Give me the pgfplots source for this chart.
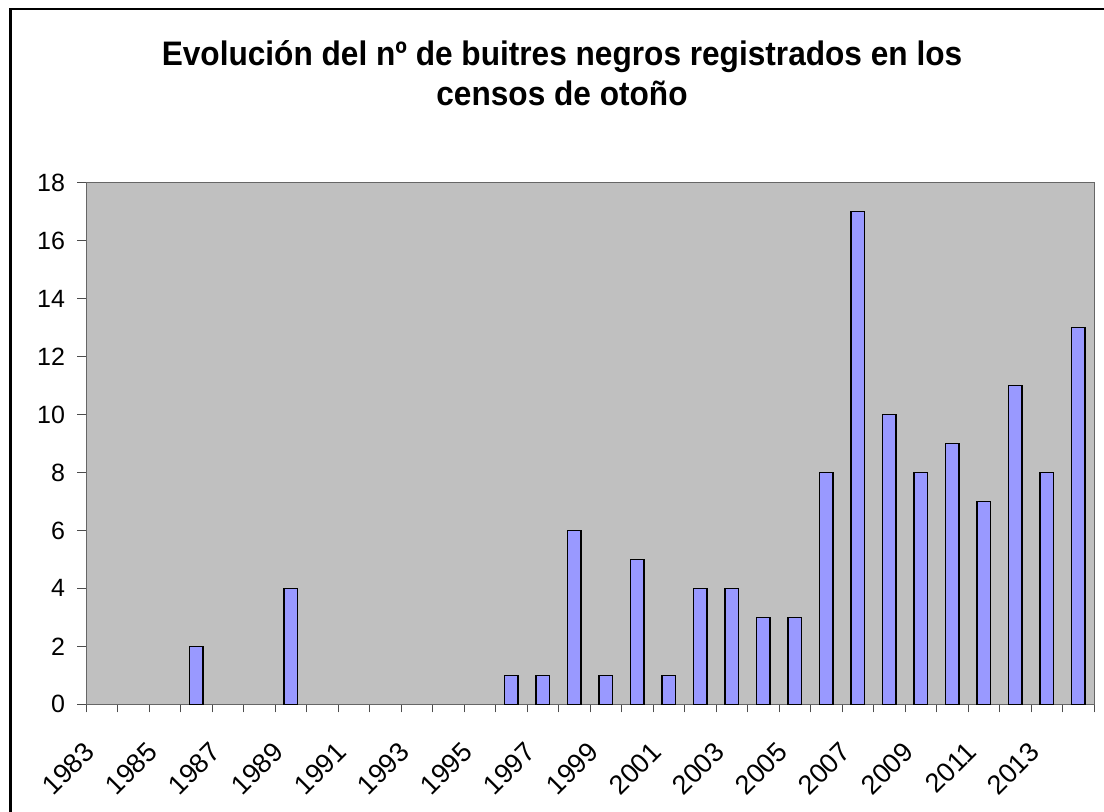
\documentclass[border=0pt]{standalone}
\usepackage{pgfplots}
\pgfplotsset{compat=1.18}
\usepackage{fontspec}
\setmainfont{Liberation Sans}
\definecolor{plotbg}{HTML}{C0C0C0}
\definecolor{barfill}{HTML}{9999FF}

\begin{document}
\begin{tikzpicture}
\begin{axis}[
  at={(43pt,-352.15pt)}, anchor=south west,
  scale only axis, width=504pt, height=260.8pt,
  xmin=1982.5, xmax=2014.5, ymin=0, ymax=18,
  axis background/.style={fill=plotbg},
  axis line style={draw=black!60},
  xtick={1983,1985,...,2013},
  minor xtick={1982.5,1983.5,...,2014.5},
  ytick={0,2,...,18},
  tick align=outside, major tick length=4.3pt, minor tick length=4pt,
  major x tick style={draw=none},
  every tick/.style={black!70},
  xtick pos=bottom, ytick pos=left,
  x tick label style={/pgf/number format/1000 sep={}},
  /pgf/number format/assume math mode=true,
  yticklabel style={font=\fontsize{12.5}{15}\selectfont, inner sep=0pt, anchor=east, xshift=-6pt},
  xticklabel style={font=\fontsize{13.5}{16}\selectfont, inner sep=0pt, yshift=-17pt, xshift=-6pt, rotate=45, anchor=east},
  ybar, bar width=0.44,
]
\addplot[fill=barfill, draw=black, line width=0.75pt] coordinates {
  (1986,2) (1989,4) (1996,1) (1997,1) (1998,6) (1999,1) (2000,5)
  (2001,1) (2002,4) (2003,4) (2004,3) (2005,3) (2006,8) (2007,17)
  (2008,10) (2009,8) (2010,9) (2011,7) (2012,11) (2013,8) (2014,13)
};
\end{axis}
% title: slightly condensed, as in the original export
\node[anchor=base, font=\bfseries\fontsize{17}{20}\selectfont] at (281pt,-33pt)
  {\scalebox{0.93}[1]{Evolución del nº de buitres negros registrados en los}};
\node[anchor=base, font=\bfseries\fontsize{17}{20}\selectfont] at (281pt,-52.75pt)
  {\scalebox{0.93}[1]{censos de otoño}};
\draw[line width=1.2pt] (5.25pt,-450pt) -- (5.25pt,-4.5pt) -- (600pt,-4.5pt);
\pgfresetboundingbox
\path (0pt,0pt) rectangle (552pt,-406pt);
\end{tikzpicture}
\end{document}
